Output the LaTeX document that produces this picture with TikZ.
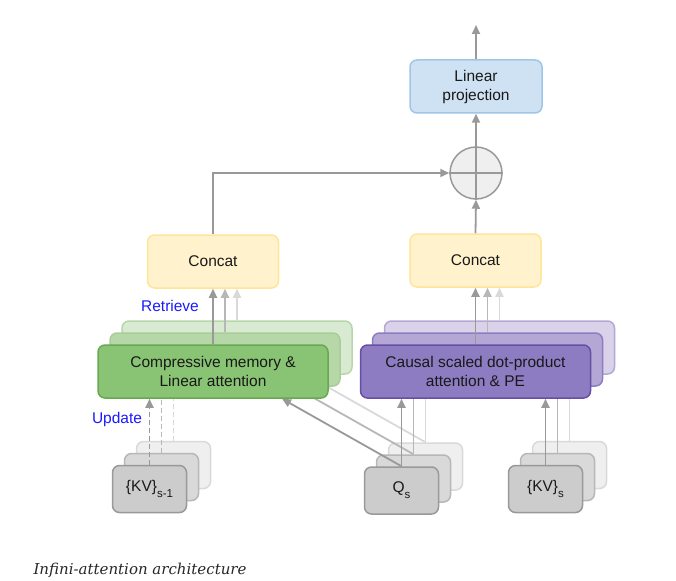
\documentclass[tikz,border=0pt]{standalone}
\usepackage{fontspec}
\setmainfont{Liberation Sans}
\newfontfamily\capfont{DejaVu Serif}
\usepackage{xcolor}
\definecolor{proj-fill}{HTML}{CFE2F3}
\definecolor{proj-line}{HTML}{9FC5E8}
\definecolor{cat-fill}{HTML}{FFF2CC}
\definecolor{cat-line}{HTML}{FFE599}
\definecolor{green-a}{HTML}{88C473}
\definecolor{green-b}{HTML}{B6D7A8}
\definecolor{green-c}{HTML}{D9EAD3}
\definecolor{green-line}{HTML}{6AA84F}
\definecolor{purple-a}{HTML}{8E7CC3}
\definecolor{purple-b}{HTML}{B4A7D6}
\definecolor{purple-c}{HTML}{D9D2E9}
\definecolor{purple-line}{HTML}{674EA7}
\definecolor{grey-a}{HTML}{CCCCCC}
\definecolor{grey-b}{HTML}{D9D9D9}
\definecolor{grey-c}{HTML}{EFEFEF}
\definecolor{line-a}{HTML}{999999}
\definecolor{line-b}{HTML}{B7B7B7}
\definecolor{line-c}{HTML}{D9D9D9}
\definecolor{label-blue}{HTML}{1A1AFF}
\usetikzlibrary{arrows.meta}
\tikzset{box/.style = {draw, rounded corners=7pt, line width=1.5pt, align=center, text centered, inner sep=0pt, text=black!90, font=\fontsize{15.5}{19}\selectfont}}
\tikzset{projbox/.style = {box, fill=proj-fill, draw=proj-line, minimum width=132pt, minimum height=53pt}}
\tikzset{catbox/.style = {box, fill=cat-fill, draw=cat-line, minimum width=131pt, minimum height=53pt}}
\tikzset{membox/.style = {box, minimum width=230pt, minimum height=53pt}}
\tikzset{inbox/.style = {box, minimum width=74pt, minimum height=47pt}}
\tikzset{lbl/.style = {text=label-blue, font=\fontsize{15.5}{19}\selectfont}}
\tikzset{arr/.style = {line width=1.8pt, -{Triangle[length=9pt,width=8pt]}}}
\tikzset{upd/.style = {dash pattern=on 5pt off 3pt}}
\newcommand{\lowsub}[1]{\raisebox{-0.7ex}{\fontsize{11.5}{11.5}\selectfont #1}}

\begin{document}
\begin{tikzpicture}[x=1pt, y=-1pt]
\useasboundingbox (0,0) rectangle (676,580);

\node[projbox] (proj) at (476,86.5) {Linear\\projection};
\node[circle, draw=line-a, fill=grey-c, line width=1.5pt, minimum size=52pt, inner sep=0pt] (sum) at (476,173) {};
\node[catbox] (catl) at (213,261.5) {Concat};
\node[catbox] (catr) at (475.5,260.5) {Concat};
\coordinate (out) at (476,25);

% back copies
\node[membox, fill=green-c, draw=green-b] (mem3) at (237,347.5) {};
\node[membox, fill=purple-c, draw=purple-b] (att3) at (499.5,347.5) {};
\node[inbox, fill=grey-c, draw=line-c] (kvp3) at (173.5,465) {};
\node[inbox, fill=grey-c, draw=line-c] (q3) at (425.5,466.5) {};
\node[inbox, fill=grey-c, draw=line-c] (kv3) at (569.5,465) {};
\draw[arr, draw=line-c]  (mem3.north) -- (mem3.north |- catl.south);
\draw[arr, draw=line-c]  (att3.north) -- (att3.north |- catr.south);
\draw[arr, upd, draw=line-c]  (kvp3.north) -- (kvp3 |- mem3.south);
\draw[arr, draw=line-c]  (q3.north) -- (q3 |- att3.south);
\draw[arr, draw=line-c]  (kv3.north) -- (kv3 |- att3.south);
\draw[arr, draw=line-c]  (q3.north) -- ([xshift=69pt]mem3.south);

\node[membox, fill=green-b, draw=green-b!80!green-line] (mem2) at (225,359.5) {};
\node[membox, fill=purple-b, draw=purple-a] (att2) at (487.5,359.5) {};
\node[inbox, fill=grey-b, draw=line-b] (kvp2) at (161.5,477) {};
\node[inbox, fill=grey-b, draw=line-b] (q2) at (413.5,478.5) {};
\node[inbox, fill=grey-b, draw=line-b] (kv2) at (557.5,477) {};
\draw[arr, draw=line-b]  (mem2.north) -- (mem2.north |- catl.south);
\draw[arr, draw=line-b]  (att2.north) -- (att2.north |- catr.south);
\draw[arr, upd, draw=line-b]  (kvp2.north) -- (kvp2 |- mem2.south);
\draw[arr, draw=line-b]  (q2.north) -- (q2 |- att2.south);
\draw[arr, draw=line-b]  (kv2.north) -- (kv2 |- att2.south);
\draw[arr, draw=line-b]  (q2.north) -- ([xshift=69pt]mem2.south);

% front row
\node[membox, fill=green-a, draw=green-line] (mem1) at (213,371.5) {Compressive memory \&\\Linear attention};
\node[membox, fill=purple-a, draw=purple-line] (att1) at (475.5,371.5) {Causal scaled dot-product\\attention \& PE};
\node[inbox, fill=grey-a, draw=line-a] (kvp1) at (149.5,489) {\{KV\}\lowsub{s-1}};
\node[inbox, fill=grey-a, draw=line-a] (q1) at (401.5,490.5) {Q\lowsub{s}};
\node[inbox, fill=grey-a, draw=line-a] (kv1) at (545.5,489) {\{KV\}\lowsub{s}};
\draw[arr, draw=line-a]  (mem1.north) -- (mem1.north |- catl.south);
\draw[arr, draw=line-a]  (att1.north) -- (att1.north |- catr.south);
\draw[arr, upd, draw=line-a]  (kvp1.north) -- (kvp1 |- mem1.south);
\draw[arr, draw=line-a]  (q1.north) -- (q1 |- att1.south);
\draw[arr, draw=line-a]  (kv1.north) -- (kv1 |- att1.south);
\draw[arr, draw=line-a]  (q1.north) -- ([xshift=69pt]mem1.south);

\node[lbl] (retrieve) at (170,306) {Retrieve};
\node[lbl] (update) at (117,419) {Update};

\draw[arr, draw=line-a]  (catr.north) -- (sum.south);
\draw[arr, draw=line-a]  (catl.north) |- (sum.west);
\draw[line width=1.5pt, draw=line-a]  (sum.north) -- (sum.south);
\draw[line width=1.5pt, draw=line-a]  (sum.west) -- (sum.east);
\draw[arr, draw=line-a]  (sum.north) -- (proj.south);
\draw[arr, draw=line-a]  (proj.north) -- (out);

\node[anchor=base west, text=black!85, font=\capfont\itshape\fontsize{15}{18}\selectfont] (caption) at (30,574) {Infini-attention architecture};

\end{tikzpicture}
\end{document}
